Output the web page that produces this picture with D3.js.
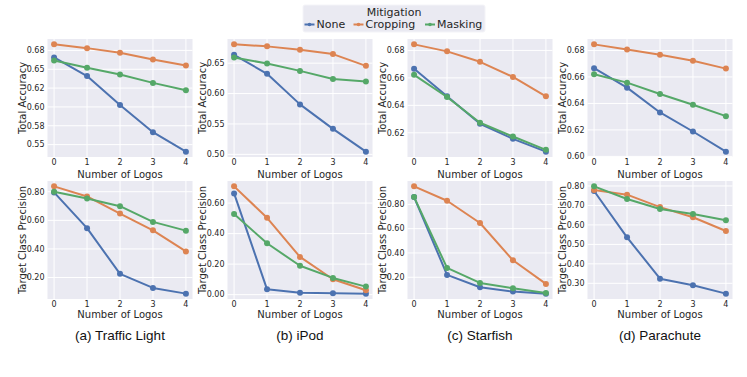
<!DOCTYPE html>
<html>
<head>
<meta charset="utf-8">
<script src="https://cdn.jsdelivr.net/npm/d3@7"></script>
<style>
	body { margin: 0; background: #fff; }
	text { font-family: "DejaVu Sans", sans-serif; }
	.tick-label { font-size: 8px; fill: #262626; }
	.axis-label { font-size: 10px; fill: #262626; }
	text.caption { font-family: "Liberation Sans", Arial, sans-serif; font-size: 13.5px; fill: #111; }
	.legend text { font-size: 11px; fill: #262626; }
</style>
</head>
<body>
<svg id="chart" width="747" height="377"></svg>
<script>
/* Data */

var logos = [0, 1, 2, 3, 4];
var mitigations = ["None", "Cropping", "Masking"];
var colors = ["#4c72b0", "#dd8452", "#55a868"];
var captions = ["(a) Traffic Light", "(b) iPod", "(c) Starfish", "(d) Parachute"];

// Total accuracy, one row per object
var accNone = [
	[0.6657, 0.641, 0.6025, 0.5665, 0.5407],
	[0.6638, 0.6324, 0.5822, 0.542, 0.5045],
	[0.6666, 0.6466, 0.6266, 0.6156, 0.6063],
	[0.6666, 0.6519, 0.6332, 0.6188, 0.6036]
];
var accCropping = [
	[0.683, 0.678, 0.672, 0.663, 0.655],
	[0.6809, 0.6776, 0.672, 0.6649, 0.6456],
	[0.6844, 0.6793, 0.6717, 0.6607, 0.6466],
	[0.6846, 0.6808, 0.6767, 0.6722, 0.6663]
];
var accMasking = [
	[0.6617, 0.6519, 0.643, 0.6319, 0.622],
	[0.6594, 0.6494, 0.6373, 0.6241, 0.6197],
	[0.6622, 0.6461, 0.6273, 0.6173, 0.6076],
	[0.662, 0.6557, 0.6471, 0.639, 0.6304]
];

// Target class precision, one row per object
var precNone = [
	[0.7953, 0.545, 0.2258, 0.1273, 0.0874],
	[0.6635, 0.035, 0.013, 0.0088, 0.0066],
	[0.8605, 0.2193, 0.118, 0.0816, 0.065],
	[0.7743, 0.5363, 0.324, 0.2897, 0.247]
];
var precCropping = [
	[0.8375, 0.767, 0.6476, 0.53, 0.3828],
	[0.7095, 0.5036, 0.247, 0.1007, 0.0285],
	[0.9486, 0.83, 0.6468, 0.3395, 0.145],
	[0.7795, 0.7555, 0.6914, 0.6394, 0.5688]
];
var precMasking = [
	[0.80, 0.753, 0.699, 0.589, 0.528],
	[0.528, 0.3365, 0.189, 0.1095, 0.0526],
	[0.8605, 0.277, 0.153, 0.109, 0.0706],
	[0.798, 0.733, 0.682, 0.6565, 0.624]
];

// y ticks per panel
var accTicks = [
	[0.55, 0.575, 0.6, 0.625, 0.65, 0.675],
	[0.50, 0.55, 0.60, 0.65],
	[0.62, 0.64, 0.66, 0.68],
	[0.60, 0.62, 0.64, 0.66, 0.68]
];
var accTickLabels = [
	["0.55", "0.58", "0.60", "0.62", "0.65", "0.68"],
	["0.50", "0.55", "0.60", "0.65"],
	["0.62", "0.64", "0.66", "0.68"],
	["0.60", "0.62", "0.64", "0.66", "0.68"]
];
var precTicks = [
	[0.2, 0.4, 0.6, 0.8],
	[0.0, 0.2, 0.4, 0.6],
	[0.2, 0.4, 0.6, 0.8],
	[0.3, 0.4, 0.5, 0.6, 0.7, 0.8]
];
var precTickLabels = [
	["0.20", "0.40", "0.60", "0.80"],
	["0.00", "0.20", "0.40", "0.60"],
	["0.20", "0.40", "0.60", "0.80"],
	["0.30", "0.40", "0.50", "0.60", "0.70", "0.80"]
];

/* Layout */

var svg = d3.select("#chart");

var panelLeft = [47.5, 227.5, 407.5, 587.5],
	panelWidth = 145,
	panelHeight = 118,
	rowTop = [39, 181];

var rows = [
	{ label: "Total Accuracy", series: [accNone, accCropping, accMasking], ticks: accTicks, tickLabels: accTickLabels, xlabelOff: 17.5 },
	{ label: "Target Class Precision", series: [precNone, precCropping, precMasking], ticks: precTicks, tickLabels: precTickLabels, xlabelOff: 15.5 }
];

rows.forEach(function(row, ri) {
	for (var p = 0; p < 4; p++) {
		var g = svg.append("g")
			.attr("transform", "translate(" + panelLeft[p] + "," + rowTop[ri] + ")");

		var x = d3.scaleLinear()
			.domain([-0.2, 4.2])
			.range([0, panelWidth]);

		var allVals = [];
		row.series.forEach(function(s) { allVals = allVals.concat(s[p]); });
		var ext = d3.extent(allVals),
			pad = (ext[1] - ext[0]) * 0.05;
		var y = d3.scaleLinear()
			.domain([ext[0] - pad, ext[1] + pad])
			.range([panelHeight, 0]);

		g.append("rect")
			.attr("width", panelWidth)
			.attr("height", panelHeight)
			.attr("fill", "#eaeaf2");

		// grid
		g.selectAll(".gx").data(logos).enter().append("line")
			.attr("x1", function(d) { return x(d); })
			.attr("x2", function(d) { return x(d); })
			.attr("y1", 0).attr("y2", panelHeight)
			.attr("stroke", "#fff").attr("stroke-width", 1);

		g.selectAll(".gy").data(row.ticks[p]).enter().append("line")
			.attr("x1", 0).attr("x2", panelWidth)
			.attr("y1", function(d) { return y(d); })
			.attr("y2", function(d) { return y(d); })
			.attr("stroke", "#fff").attr("stroke-width", 1);

		// tick labels
		var labels = row.tickLabels[p];
		g.selectAll(".yl").data(row.ticks[p]).enter().append("text")
			.attr("class", "tick-label")
			.attr("x", -3)
			.attr("y", function(d) { return y(d); })
			.attr("dy", "0.35em")
			.attr("text-anchor", "end")
			.text(function(d, i) { return labels[i]; });

		g.selectAll(".xl").data(logos).enter().append("text")
			.attr("class", "tick-label")
			.attr("x", function(d) { return x(d); })
			.attr("y", panelHeight + 5)
			.attr("dy", "0.35em")
			.attr("text-anchor", "middle")
			.text(function(d) { return d; });

		g.append("text")
			.attr("class", "axis-label")
			.attr("x", panelWidth / 2)
			.attr("y", panelHeight + row.xlabelOff)
			.attr("dy", "0.35em")
			.attr("text-anchor", "middle")
			.text("Number of Logos");

		g.append("text")
			.attr("class", "axis-label")
			.attr("transform", "translate(-25," + panelHeight / 2 + ") rotate(-90)")
			.attr("dy", "0.35em")
			.attr("text-anchor", "middle")
			.text(row.label);

		// lines
		var line = d3.line()
			.x(function(d, i) { return x(logos[i]); })
			.y(function(d) { return y(d); });

		row.series.forEach(function(s, si) {
			g.append("path")
				.datum(s[p])
				.attr("fill", "none")
				.attr("stroke", colors[si])
				.attr("stroke-width", 2)
				.attr("stroke-linejoin", "round")
				.attr("d", line);

			g.selectAll(".dot" + si).data(s[p]).enter().append("circle")
				.attr("cx", function(d, i) { return x(logos[i]); })
				.attr("cy", function(d) { return y(d); })
				.attr("r", 3)
				.attr("fill", colors[si]);
		});

		if (ri === 1) {
			g.append("text")
				.attr("class", "caption")
				.attr("x", panelWidth / 2)
				.attr("y", 335 - rowTop[ri])
				.attr("dy", "0.35em")
				.attr("text-anchor", "middle")
				.text(captions[p]);
		}
	}
});

/* Legend */

var legend = svg.append("g").attr("class", "legend");

legend.append("rect")
	.attr("x", 303).attr("y", 5)
	.attr("width", 182).attr("height", 27)
	.attr("rx", 2)
	.attr("fill", "#eaeaf2")
	.attr("stroke", "#f4f4f8");

legend.append("text")
	.attr("x", 394).attr("y", 12)
	.attr("dy", "0.35em")
	.attr("text-anchor", "middle")
	.text("Mitigation");

var entryX = [316.5, 365.5, 437];

mitigations.forEach(function(m, i) {
	var e = legend.append("g").attr("transform", "translate(" + entryX[i] + ",24.5)");
	e.append("line")
		.attr("x1", -12).attr("x2", -2)
		.attr("stroke", colors[i]).attr("stroke-width", 2);
	e.append("circle")
		.attr("cx", -7).attr("r", 1.8)
		.attr("fill", colors[i]);
	e.append("text")
		.attr("x", 0)
		.attr("dy", "0.35em")
		.text(m);
});
</script>
</body>
</html>
